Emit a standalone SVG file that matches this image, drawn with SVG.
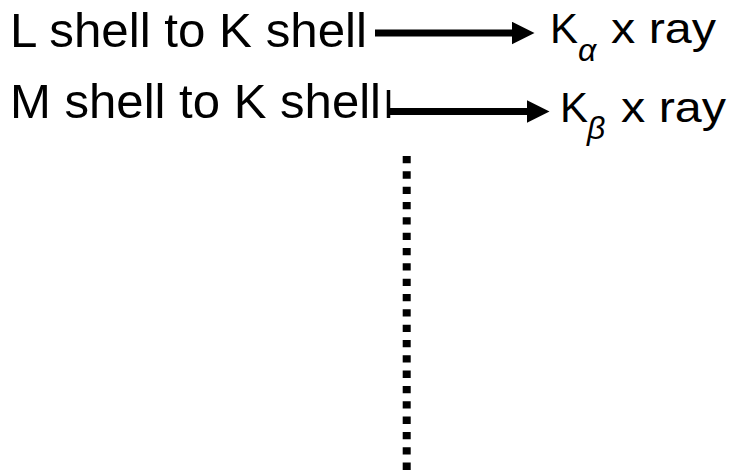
<svg xmlns="http://www.w3.org/2000/svg" width="734" height="472" viewBox="0 0 734 472">
  <style>
    .lbl { font-family: "Liberation Sans", Arial, sans-serif; fill: #000; }
    .big { font-size: 49px; }
    .mid { font-size: 42px; }
    .sub { font-size: 32px; font-style: italic; }
    .conn { stroke: #000; stroke-width: 7; fill: none; }
    .dots { stroke: #000; stroke-width: 8; stroke-dasharray: 7.3 8.03; fill: none; }
  </style>
  <defs>
    <marker id="head" markerUnits="userSpaceOnUse" markerWidth="23" markerHeight="23" refX="0" refY="11.25" orient="auto">
      <path d="M0,0 L22.5,11.25 L0,22.5 Z" fill="#000"/>
    </marker>
  </defs>
  <rect width="734" height="472" fill="#fff"/>

  <g id="node-l-shell">
    <text class="lbl big" x="10" y="46.5" textLength="357" lengthAdjust="spacingAndGlyphs">L shell to K shell</text>
  </g>
  <g id="node-m-shell">
    <text class="lbl big" x="10" y="118" textLength="371" lengthAdjust="spacingAndGlyphs">M shell to K shell</text>
  </g>
  <g id="node-k-alpha">
    <text class="lbl mid" x="550" y="43">K</text>
    <text class="lbl sub" x="578" y="61">α</text>
    <text class="lbl mid" x="611" y="43" textLength="105" lengthAdjust="spacingAndGlyphs">x ray</text>
  </g>
  <g id="node-k-beta">
    <text class="lbl mid" x="560" y="122">K</text>
    <text class="lbl sub" x="587" y="139">β</text>
    <text class="lbl mid" x="621" y="122" textLength="105" lengthAdjust="spacingAndGlyphs">x ray</text>
  </g>

  <g id="connectors">
    <line class="conn" x1="375" y1="33" x2="512" y2="33" marker-end="url(#head)"/>
    <line class="conn" x1="388" y1="111.5" x2="527" y2="111.5" marker-end="url(#head)"/>
    <line x1="388.5" y1="90" x2="388.5" y2="118" stroke="#000" stroke-width="3.5"/>
    <line class="dots" x1="406.7" y1="156" x2="406.7" y2="472"/>
  </g>
</svg>
